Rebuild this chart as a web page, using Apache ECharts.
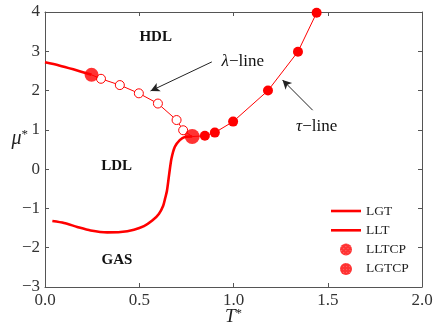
<!DOCTYPE html>
<html><head><meta charset="utf-8">
<script src="https://cdn.jsdelivr.net/npm/echarts@6/dist/echarts.min.js"></script>
<style>html,body{margin:0;padding:0;background:#fff}#c{width:436px;height:327px}</style>
</head><body><div id="c"></div>
<script>
// LGT (liquid-gas transition) line
const T_LGT  = [0.039,0.101,0.171,0.242,0.330,0.401,0.472,0.525,0.569,0.604,0.627,0.637,0.647,0.659,0.671,0.689,0.715,0.742,0.781];
const MU_LGT = [-1.32,-1.37,-1.47,-1.56,-1.61,-1.60,-1.54,-1.45,-1.31,-1.14,-0.93,-0.75,-0.55,-0.12,0.27,0.57,0.74,0.82,0.83];
// LLT (liquid-liquid transition) line
const T_LLT  = [0.0,0.075,0.150,0.247];
const MU_LLT = [2.72,2.64,2.54,2.40];
// lambda-line (open circles)
const T_LAMBDA  = [0.297,0.397,0.498,0.599,0.698,0.733];
const MU_LAMBDA = [2.30,2.14,1.93,1.67,1.25,0.99];
// tau-line (filled circles)
const T_TAU  = [0.848,0.901,0.998,1.183,1.342,1.441];
const MU_TAU = [0.85,0.93,1.21,2.00,2.99,3.98];
// critical points
const LLTCP = [0.247,2.40];
const LGTCP = [0.781,0.83];
// ticks
const X_TICKS = [0.0,0.5,1.0,1.5,2.0];
const Y_TICKS = [-3,-2,-1,0,1,2,3,4];

const RED = '#ff0000';
const SERIF = '"Liberation Serif","DejaVu Serif",serif';
const zip = (a,b)=>a.map((v,i)=>[v,b[i]]);

const chart = echarts.init(document.getElementById('c'), null, {renderer:'canvas'});
const axCommon = {
  axisLine:{onZero:false,lineStyle:{color:'#555',width:1}},
  axisTick:{inside:true,length:4,lineStyle:{color:'#555'}},
  splitLine:{show:false}
};
const lambdaData = [LLTCP].concat(zip(T_LAMBDA,MU_LAMBDA)).concat([LGTCP]).map((p,i,arr)=>({value:p,symbol:(i===0||i===arr.length-1)?'none':'circle'}));
const tauData = [{value:LGTCP,symbol:'none'}].concat(zip(T_TAU,MU_TAU).map(p=>({value:p})));

const option = {
  animation:false,
  grid:{left:45,right:14,top:12,bottom:40,containLabel:false,outerBoundsMode:'none'},
  xAxis:[
    Object.assign({type:'value',min:0,max:2,interval:0.5,position:'bottom',
      axisLabel:{color:'#333',fontFamily:SERIF,fontSize:17,margin:5,formatter:v=>X_TICKS.includes(v)?v.toFixed(1):''},
      name:'{i|T}{s|*}',nameLocation:'middle',nameGap:20,nameMoveOverlap:false,
      nameTextStyle:{rich:{i:{fontFamily:SERIF,fontStyle:'italic',fontSize:19,color:'#222'},s:{fontFamily:SERIF,fontSize:13,color:'#222',verticalAlign:'top',padding:[0,0,6,0]}}}
    },axCommon),
    Object.assign({type:'value',min:0,max:2,interval:0.5,position:'top',axisLabel:{show:false}},axCommon)
  ],
  yAxis:[
    Object.assign({type:'value',min:-3,max:4,interval:1,position:'left',
      axisLabel:{color:'#333',fontFamily:SERIF,fontSize:17,margin:5,formatter:v=>Y_TICKS.includes(v)?(v<0?'\u2212'+(-v):''+v):''},
      name:'{i|\u03bc}{s|*}',nameLocation:'middle',nameRotate:0,nameGap:17,nameMoveOverlap:false,
      nameTextStyle:{padding:[0,0,22,0],rich:{i:{fontFamily:SERIF,fontStyle:'italic',fontSize:20,color:'#222'},s:{fontFamily:SERIF,fontSize:13,color:'#222',verticalAlign:'top',padding:[0,0,8,0]}}}
    },axCommon),
    Object.assign({type:'value',min:-3,max:4,interval:1,position:'right',axisLabel:{show:false}},axCommon)
  ],
  legend:{
    left:326,top:199,orient:'vertical',itemWidth:30,itemHeight:12,itemGap:5.3,
    textStyle:{fontFamily:SERIF,fontSize:13.5,color:'#222',lineHeight:12},
    data:[
      {name:'LGT',icon:'path://M0,0L30,0L30,2.6L0,2.6Z'},
      {name:'LLT',icon:'path://M0,0L30,0L30,2.6L0,2.6Z'},
      {name:'LLTCP',icon:'circle'},
      {name:'LGTCP',icon:'circle'}
    ]
  },
  series:[
    {name:'LLT',type:'line',data:zip(T_LLT,MU_LLT),smooth:0.3,showSymbol:false,symbol:'none',
      lineStyle:{color:RED,width:2.6},itemStyle:{color:RED},z:3},
    {name:'LGT',type:'line',data:zip(T_LGT,MU_LGT),smooth:0.25,showSymbol:false,symbol:'none',
      lineStyle:{color:RED,width:2.6},itemStyle:{color:RED},z:3},
    {name:'lambda',type:'line',data:lambdaData,symbol:'circle',symbolSize:9,
      lineStyle:{color:RED,width:1},itemStyle:{color:'#fff',borderColor:RED,borderWidth:1},z:4,
      markLine:{silent:true,symbol:['none','arrow'],symbolSize:[7,9],label:{show:false},
        lineStyle:{color:'#222',width:1,type:'solid',curveness:0.25},
        data:[[{coord:[0.885,2.73]},{coord:[0.56,1.99]}],
              [{coord:[1.42,1.50],lineStyle:{curveness:-0.3}},{coord:[1.26,2.27]}]]}
    },
    {name:'tau',type:'line',data:tauData,symbol:'circle',symbolSize:10,
      lineStyle:{color:RED,width:1},itemStyle:{color:RED},z:4},
    {name:'LLTCP',type:'scatter',data:[LLTCP],symbol:'circle',symbolSize:14,
      itemStyle:{color:RED,decal:{symbol:'rect',symbolSize:1,color:'rgba(255,170,170,0.7)',dashArrayX:[1,2],dashArrayY:[1,2],rotation:Math.PI/4}},z:5},
    {name:'LGTCP',type:'scatter',data:[LGTCP],symbol:'circle',symbolSize:15,
      itemStyle:{color:RED,decal:{symbol:'rect',symbolSize:1,color:'rgba(255,150,150,0.6)',dashArrayX:[1,2],dashArrayY:[1,2],rotation:0}},z:5},
    {name:'annot',type:'scatter',data:[],silent:true,
      markPoint:{symbol:'circle',symbolSize:0,silent:true,
        label:{show:true,position:'inside',fontFamily:SERIF,color:'#111'},
        data:[
          {coord:[0.587,3.37],label:{formatter:'HDL',fontWeight:'bold',fontSize:15}},
          {coord:[0.380,0.07],label:{formatter:'LDL',fontWeight:'bold',fontSize:15}},
          {coord:[0.382,-2.31],label:{formatter:'GAS',fontWeight:'bold',fontSize:15}},
          {coord:[1.049,2.73],label:{formatter:'{i|\u03bb}\u2212line',fontSize:17,rich:{i:{fontFamily:SERIF,fontStyle:'italic',fontSize:17,color:'#111'}}}},
          {coord:[1.441,1.08],label:{formatter:'{i|\u03c4}\u2212line',fontSize:17,rich:{i:{fontFamily:SERIF,fontStyle:'italic',fontSize:17,color:'#111'}}}}
        ]}
    }
  ]
};
chart.setOption(option);
</script></body></html>
